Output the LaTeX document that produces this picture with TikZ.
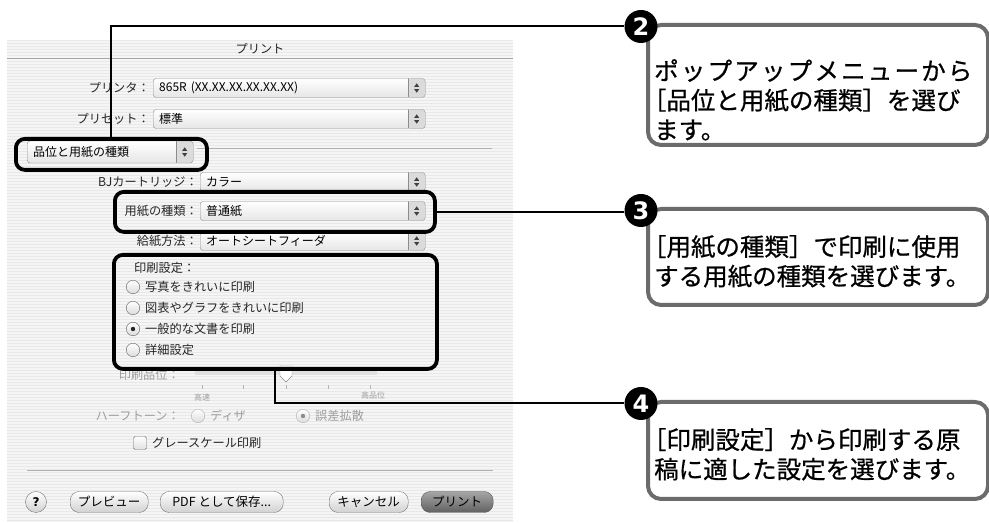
\documentclass[tikz,border=0pt]{standalone}
\usepackage{fontspec}
\setmainfont{Noto Sans CJK JP}
\newfontfamily\numfont{DejaVu Sans}
\newfontfamily\callfont{Noto Sans CJK JP}[FakeBold=0.7]
\usetikzlibrary{shapes,arrows,positioning,patterns}

\tikzset{
  dlgtext/.style={font=\fontsize{12.2}{14}\selectfont, inner sep=0, text=black!85},
  dimtext/.style={dlgtext, text=black!38},
  popup/.style={draw=black!45, rounded corners=3, top color=white, bottom color=black!10,
    minimum height=19, inner xsep=6, inner ysep=0, anchor=west, align=left,
    font=\fontsize{12}{14}\selectfont,
    path picture={
      \fill[black!14] ([xshift=-17]path picture bounding box.north east) rectangle (path picture bounding box.south east);
      \draw[black!45] ([xshift=-17]path picture bounding box.north east) -- ([xshift=-17]path picture bounding box.south east);
      \fill[black!75, sharp corners] ([xshift=-11,yshift=1.2]path picture bounding box.east) -- ++(5,0) -- ++(-2.5,3.5) -- cycle
        ([xshift=-11,yshift=-1.2]path picture bounding box.east) -- ++(5,0) -- ++(-2.5,-3.5) -- cycle;
    }},
  radio/.style={circle, draw=black!60, minimum size=13.5, inner sep=0, top color=white, bottom color=black!14},
  radioon/.style={radio, path picture={\fill[#1] (path picture bounding box.center) circle (2.2);}},
  radioon/.default=black!85,
  checkbox/.style={rectangle, rounded corners=1.5, draw=black!60, minimum size=13, inner sep=0,
    top color=white, bottom color=black!12},
  btn/.style={rounded corners=9, draw=black!55, top color=white, bottom color=black!18,
    minimum height=21, inner xsep=6, inner ysep=0, font=\fontsize{12.5}{14}\selectfont},
  btndef/.style={btn, draw=black!65, top color=black!35, bottom color=black!62},
  hilite/.style={draw, line width=3.8, rounded corners=9, inner sep=0, anchor=north west},
  conn/.style={line width=2},
  callbox/.style={draw=black!58, line width=4, rounded corners=13, fill=white, inner sep=0,
    anchor=north west, minimum width=340},
  calltext/.style={font=\callfont\fontsize{24.5}{29.5}\selectfont, align=left, inner sep=0},
  stepnum/.style={circle, fill=black, text=white, minimum size=33, inner sep=0,
    font=\numfont\bfseries\fontsize{24}{24}\selectfont}
}

\begin{document}
\begin{tikzpicture}[x=1pt,y=1pt]
  \useasboundingbox (0,0) rectangle (989,524);

  % dialog
  \node[preaction={fill=black!4}, pattern=horizontal lines, pattern color=black!9,
    minimum width=506, minimum height=482, anchor=south west, inner sep=0] (dlg) at (7,2) {};
  \draw[black!35] (7,466) -- (513,466);
  \node[dlgtext] (title) at (260,475) {プリント};

  \node[dlgtext, anchor=east] (lprinter) at (150,436) {プリンタ：};
  \node[popup, text width=260] (printer) at (153,436) {865R (XX.XX.XX.XX.XX.XX)};
  \node[dlgtext, anchor=east] (lpreset) at (150,405) {プリセット：};
  \node[popup, text width=260] (preset) at (153,405) {標準};
  \node[popup, text width=154, minimum height=22] (panel) at (27,372) {品位と用紙の種類};
  \draw[black!30] (197,376) -- (492,376);
  \node[dlgtext, anchor=east] (lcart) at (198,342) {BJカートリッジ：};
  \node[popup, text width=213] (cart) at (200,342) {カラー};
  \node[dlgtext, anchor=east] (lmedia) at (198,313) {用紙の種類：};
  \node[popup, text width=213] (media) at (200,313) {普通紙};
  \node[dlgtext, anchor=east] (lfeed) at (198,283) {給紙方法：};
  \node[popup, text width=213] (feed) at (200,283) {オートシートフィーダ};

  % print settings
  \node[dlgtext, anchor=west] (lsetting) at (134,256) {印刷設定：};
  \node[radio] (r1) at (133,237) {};
  \node[dlgtext, anchor=west] (o1) at (145,237) {写真をきれいに印刷};
  \node[radio] (r2) at (133,216) {};
  \node[dlgtext, anchor=west] (o2) at (145,216) {図表やグラフをきれいに印刷};
  \node[radioon] (r3) at (133,195) {};
  \node[dlgtext, anchor=west] (o3) at (145,195) {一般的な文書を印刷};
  \node[radio] (r4) at (133,174) {};
  \node[dlgtext, anchor=west] (o4) at (145,174) {詳細設定};

  % disabled controls
  \node[dimtext, anchor=east] (lquality) at (180,149) {印刷品位：};
  \draw[black!12, line width=5, line cap=round] (197,151) -- (375,151);
  \draw[black!30] (202,139) -- (202,135) (243,139) -- (243,135) (286,139) -- (286,135)
    (328,139) -- (328,135) (370,139) -- (370,135);
  \filldraw[fill=white, draw=black!45] (280,158) -- (292,158) -- (292,148) -- (286,142) -- (280,148) -- cycle;
  \node[dimtext, font=\fontsize{8}{9}\selectfont] (lfast) at (202,127) {高速};
  \node[dimtext, font=\fontsize{8}{9}\selectfont] (lhigh) at (373,129) {高品位};
  \node[dimtext, anchor=east] (lhalf) at (180,108) {ハーフトーン：};
  \node[radio, draw=black!30] (rdither) at (198,108) {};
  \node[dimtext, anchor=west] (odither) at (210,108) {ディザ};
  \node[radioon=black!45, draw=black!30] (rdiff) at (303,108) {};
  \node[dimtext, anchor=west] (odiff) at (315,108) {誤差拡散};

  \node[checkbox] (cgray) at (140,81) {};
  \node[dlgtext, anchor=west] (lgray) at (152,81) {グレースケール印刷};
  \draw[black!30] (27,54) -- (493,54);

  % buttons
  \node[btn, circle, minimum size=21, inner sep=0, font=\numfont\bfseries\fontsize{12}{12}\selectfont] (help) at (36,22) {?};
  \node[btn, anchor=west, minimum width=78] (preview) at (70,22) {プレビュー};
  \node[btn, anchor=west, minimum width=123] (pdf) at (160,22) {PDF として保存...};
  \node[btn, anchor=west, minimum width=79] (cancel) at (329,22) {キャンセル};
  \node[btndef, anchor=west, minimum width=72] (print) at (421,22) {プリント};

  % highlights
  \node[hilite, minimum width=191, minimum height=31] (h1) at (14,387) {};
  \node[hilite, minimum width=320, minimum height=40] (h2) at (113,334) {};
  \node[hilite, minimum width=323, minimum height=114] (h3) at (112,271) {};

  % callouts
  \node[callbox, minimum height=120] (b2) at (646,501) {};
  \node[callbox, minimum height=96] (b3) at (646,317) {};
  \node[callbox, minimum height=97] (b4) at (646,124) {};
  \node[calltext, below right=36 and 8 of b2.north west] (t2)
    {{\addfontfeature{LetterSpace=9}ポップアップメニューから}\\\hspace*{-0.5em}［品位と用紙の種類］を選び\\ます。};
  \node[calltext, below right=28 and 8 of b3.north west] (t3)
    {\hspace*{-0.5em}［用紙の種類］で印刷に使用\\する用紙の種類を選びます。};
  \node[calltext, below right=28 and 8 of b4.north west] (t4)
    {\hspace*{-0.5em}［印刷設定］から印刷する原\\稿に適した設定を選びます。};

  \node[stepnum] (n2) at ([xshift=-5,yshift=-3.5]b2.north west) {2};
  \node[stepnum] (n3) at ([xshift=-5,yshift=-3.5]b3.north west) {3};
  \node[stepnum] (n4) at ([xshift=-5,yshift=-3.5]b4.north west) {4};

  \draw[conn] (h1.north) |- (n2.west);
  \draw[conn] (h2.east) -- (h2.east -| n3.west);
  \draw[conn] (h3.south) |- (n4.west);
\end{tikzpicture}
\end{document}
